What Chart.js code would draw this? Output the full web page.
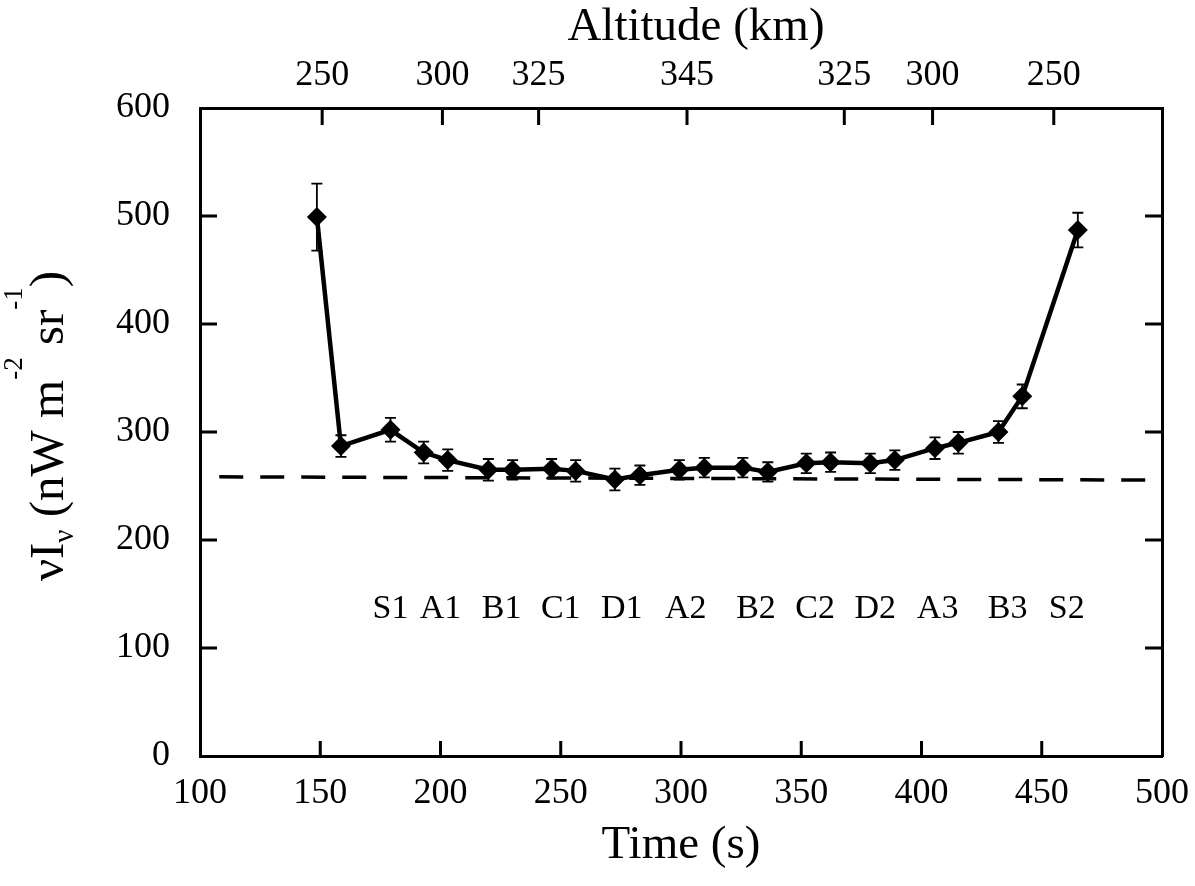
<!DOCTYPE html>
<html>
<head>
<meta charset="utf-8">
<script src="https://cdn.jsdelivr.net/npm/chart.js@4.4.0/dist/chart.umd.min.js"></script>
<style>
  html, body { margin: 0; padding: 0; background: #fff; }
  #wrap { width: 1195px; height: 886px; }
</style>
</head>
<body>
<div id="wrap"><canvas id="chart" width="1195" height="886"></canvas></div>
<script>
// measured points (time in s, intensity, error)
var times  = [148.6, 158.6, 179.2, 193, 203, 219.9, 230, 246.2, 256.2, 272.5, 282.9, 299.3,
              309.7, 325.7, 336.1, 352.1, 362.2, 378.7, 388.9, 405.6, 415.3, 432, 441.9, 465];
var values = [499, 287, 302, 281, 274, 265, 265, 266, 264, 256, 260, 265,
              267, 267, 263, 271, 272, 271, 274, 285, 290, 300, 333, 487];
var errors = [31, 10, 11, 10, 10, 10, 9, 9, 10, 10, 9, 9,
              9, 9, 9, 9, 9, 9, 9, 10, 10, 10, 11, 16];

// dashed reference level
var refTimes  = [108, 494];
var refValues = [258.5, 255.5];

// region labels
var regionNames = ['S1', 'A1', 'B1', 'C1', 'D1', 'A2', 'B2', 'C2', 'D2', 'A3', 'B3', 'S2'];
var regionTimes = [179.2, 200, 225.4, 250, 275.4, 302, 331.2, 355.8, 380.8, 406.7, 435.8, 460.4];
var regionLevel = 128;

// top axis: altitude
var altTickTimes  = [150.8, 200.8, 240.8, 302.5, 367.9, 404.6, 455];
var altTickLabels = ['250', '300', '325', '345', '325', '300', '250'];

var SERIF = '"Liberation Serif", "Times New Roman", serif';

var points = [];
for (var i = 0; i < times.length; i++) {
    points.push({x: times[i], y: values[i]});
}
var refPoints = [];
for (var j = 0; j < refTimes.length; j++) {
    refPoints.push({x: refTimes[j], y: refValues[j]});
}

// fixed axis boxes so the plot frame sits where it does in the original
function fixBox(size) {
    return function (s) {
        if (s.isHorizontal()) s.height = size; else s.width = size;
        s.paddingLeft = 0; s.paddingRight = 0;
        s.paddingTop = 0; s.paddingBottom = 0;
    };
}

// error bars, inward ticks, region names, top title and the y title
var extras = {
    id: 'extras',
    afterDatasetsDraw: function (chart) {
        var ctx = chart.ctx;
        var xs = chart.scales.x, ys = chart.scales.y;
        var area = chart.chartArea;
        ctx.save();
        ctx.strokeStyle = '#000';

        // error bars
        ctx.lineWidth = 1.8;
        for (var i = 0; i < times.length; i++) {
            var px = xs.getPixelForValue(times[i]);
            var top = ys.getPixelForValue(values[i] + errors[i]);
            var bot = ys.getPixelForValue(values[i] - errors[i]);
            ctx.beginPath();
            ctx.moveTo(px, top); ctx.lineTo(px, bot);
            ctx.moveTo(px - 5.5, top); ctx.lineTo(px + 5.5, top);
            ctx.moveTo(px - 5.5, bot); ctx.lineTo(px + 5.5, bot);
            ctx.stroke();
        }

        // inward tick marks
        ctx.lineWidth = 3;
        ctx.beginPath();
        xs.ticks.forEach(function (t) {
            if (t.value <= xs.min || t.value >= xs.max) return;
            var p = xs.getPixelForValue(t.value);
            ctx.moveTo(p, area.bottom); ctx.lineTo(p, area.bottom - 15);
        });
        var x2 = chart.scales.x2;
        x2.ticks.forEach(function (t) {
            var p = x2.getPixelForValue(t.value);
            ctx.moveTo(p, area.top); ctx.lineTo(p, area.top + 17);
        });
        ys.ticks.forEach(function (t) {
            if (t.value <= ys.min || t.value >= ys.max) return;
            var p = ys.getPixelForValue(t.value);
            ctx.moveTo(area.left, p); ctx.lineTo(area.left + 17, p);
            ctx.moveTo(area.right, p); ctx.lineTo(area.right - 17, p);
        });
        ctx.stroke();

        // region labels
        ctx.fillStyle = '#000';
        ctx.font = '34px ' + SERIF;
        ctx.textAlign = 'center';
        ctx.textBaseline = 'alphabetic';
        for (var k = 0; k < regionNames.length; k++) {
            ctx.fillText(regionNames[k], xs.getPixelForValue(regionTimes[k]), ys.getPixelForValue(regionLevel));
        }

        // top title, a little right of centre as in the original
        ctx.font = '47px ' + SERIF;
        ctx.textBaseline = 'middle';
        ctx.fillText('Altitude (km)', (area.left + area.right) / 2 + 15, 28);

        // y axis title: nu I_nu (nW m^-2 sr^-1)
        ctx.textBaseline = 'alphabetic';
        var parts = [
            {t: '\u03BDI', size: 49, dy: 0},
            {t: '\u03BD', size: 29, dy: 10},
            {t: ' (nW m', size: 49, dy: 0},
            {t: '-2', size: 27, dy: -41},
            {t: ' sr', size: 49, dy: 0},
            {t: '-1', size: 27, dy: -41},
            {t: ')', size: 49, dy: 0}
        ];
        var total = 0;
        parts.forEach(function (p) {
            ctx.font = p.size + 'px ' + SERIF;
            p.w = ctx.measureText(p.t).width;
            total += p.w;
        });
        ctx.translate(63, (area.top + area.bottom) / 2 - 6);
        ctx.rotate(-Math.PI / 2);
        ctx.textAlign = 'left';
        var cx = -total / 2;
        parts.forEach(function (p) {
            ctx.font = p.size + 'px ' + SERIF;
            ctx.fillText(p.t, cx, p.dy);
            cx += p.w;
        });
        ctx.restore();
    }
};

var tickFont = {family: SERIF, size: 36};
var titleFont = {family: SERIF, size: 47};

var ctx = document.getElementById('chart');
var chart = new Chart(ctx, {
    type: 'line',
    data: {
        datasets: [
            {
                label: 'intensity',
                data: points,
                borderColor: '#000',
                backgroundColor: '#000',
                borderWidth: 4.5,
                tension: 0,
                pointStyle: 'rectRot',
                pointRadius: 10,
                pointBorderWidth: 0,
                pointBackgroundColor: '#000'
            },
            {
                label: 'level',
                data: refPoints,
                borderColor: '#000',
                borderWidth: 3.5,
                borderDash: [24, 17],
                pointRadius: 0,
                tension: 0
            }
        ]
    },
    options: {
        responsive: false,
        animation: false,
        layout: {padding: 0},
        plugins: {
            legend: {display: false},
            tooltip: {enabled: false}
        },
        scales: {
            x: {
                type: 'linear',
                position: 'bottom',
                min: 100,
                max: 500,
                afterFit: fixBox(130),
                grid: {display: false, drawTicks: false, tickLength: 0},
                border: {display: true, width: 3, color: '#000'},
                ticks: {stepSize: 50, color: '#000', font: tickFont, padding: 16, maxRotation: 0},
                title: {display: true, text: 'Time (s)', color: '#000', font: titleFont, padding: {top: 0, bottom: 12}}
            },
            x2: {
                type: 'linear',
                position: 'top',
                min: 100,
                max: 500,
                afterFit: fixBox(108),
                afterBuildTicks: function (axis) {
                    axis.ticks = altTickTimes.map(function (v) { return {value: v}; });
                },
                grid: {display: false, drawTicks: false, tickLength: 0},
                border: {display: true, width: 3, color: '#000'},
                ticks: {
                    autoSkip: false,
                    color: '#000',
                    font: tickFont,
                    padding: 11,
                    maxRotation: 0,
                    callback: function (val, idx) { return altTickLabels[idx]; }
                }
            },
            y: {
                type: 'linear',
                position: 'left',
                min: 0,
                max: 600,
                afterFit: fixBox(200),
                grid: {display: false, drawTicks: false, tickLength: 0},
                border: {display: true, width: 3, color: '#000'},
                ticks: {stepSize: 100, color: '#000', font: tickFont, padding: 30}
            },
            y2: {
                type: 'linear',
                position: 'right',
                min: 0,
                max: 600,
                afterFit: fixBox(33),
                grid: {display: false, drawTicks: false, tickLength: 0},
                border: {display: true, width: 3, color: '#000'},
                ticks: {display: false, stepSize: 100}
            }
        }
    },
    plugins: [extras]
});
</script>
</body>
</html>
